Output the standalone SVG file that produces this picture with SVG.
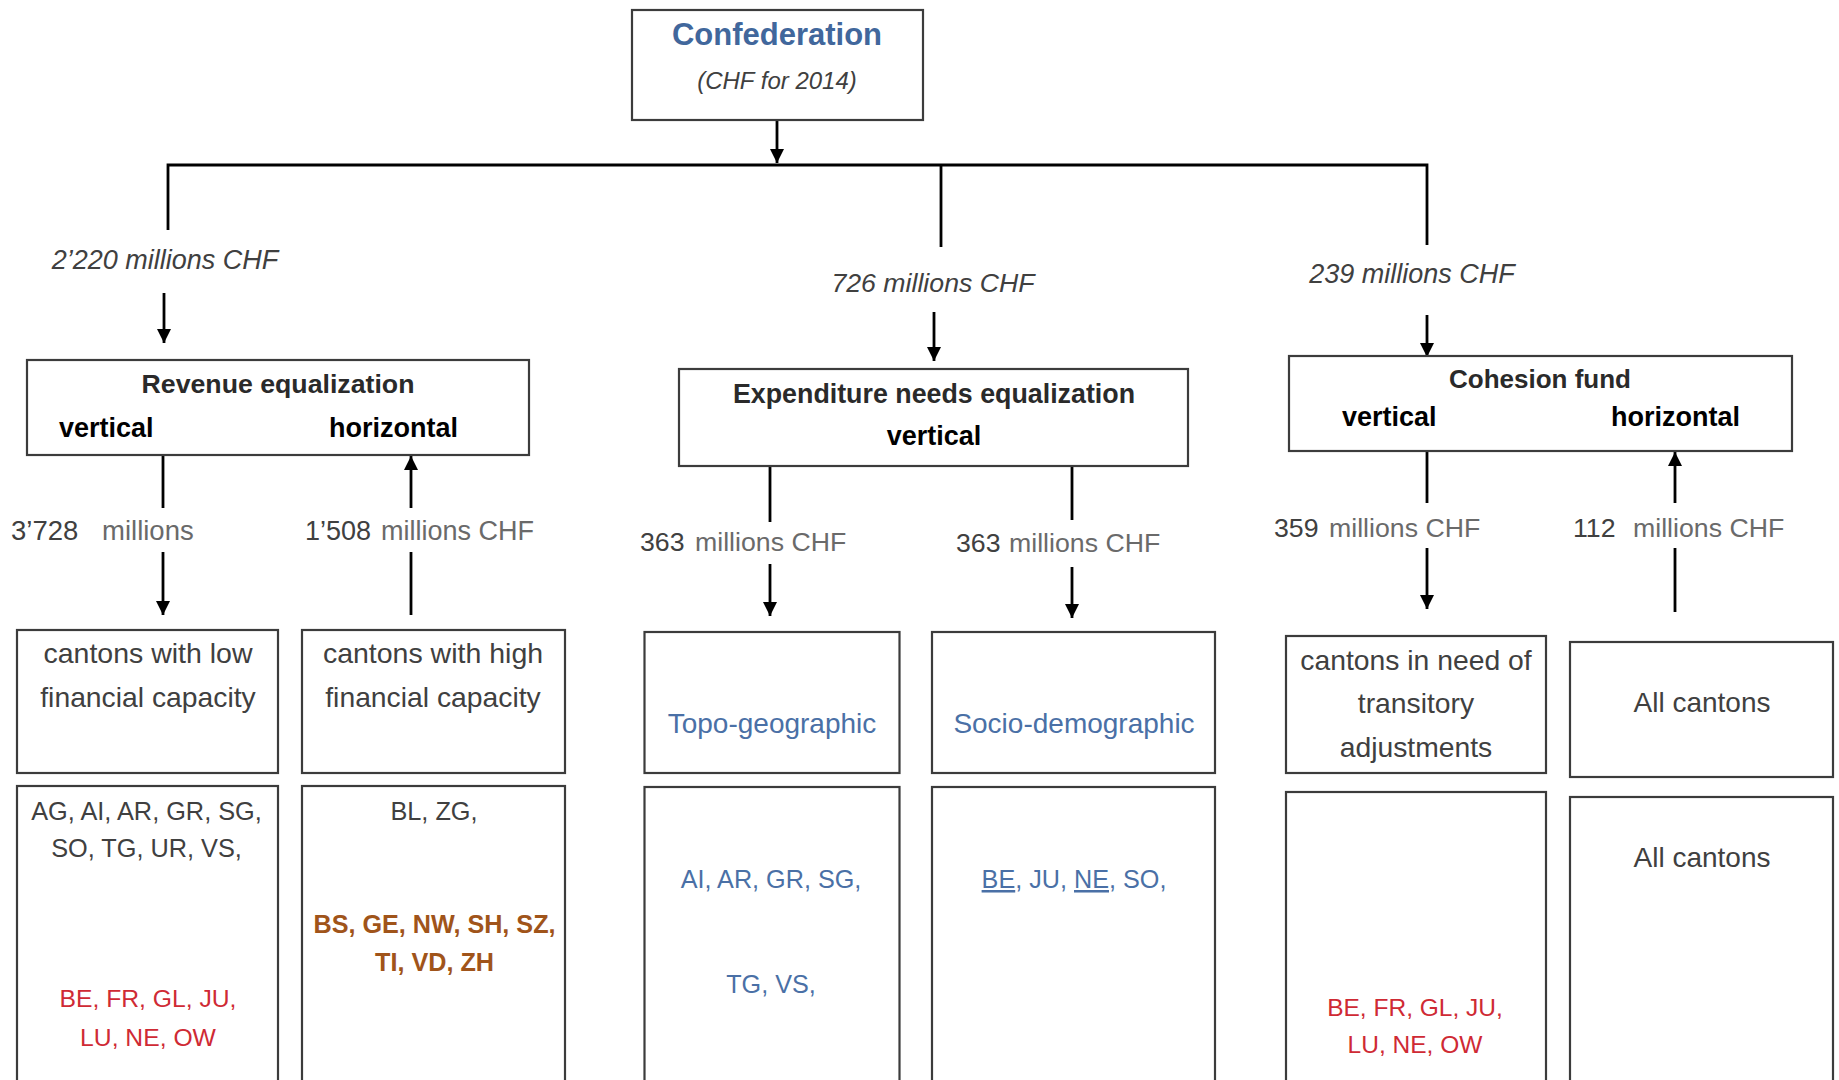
<svg xmlns="http://www.w3.org/2000/svg" width="1839" height="1080" viewBox="0 0 1839 1080">
<defs>
<marker id="ah" markerUnits="userSpaceOnUse" markerWidth="14" markerHeight="14" refX="14" refY="7" orient="auto">
<path d="M0,0 L14,7 L0,14 z" fill="#000"/>
</marker>
<style>
.box{fill:#fff;stroke:#3c3c3c;stroke-width:2.2}
.ln{fill:none;stroke:#000;stroke-width:2.8}
.arr{fill:none;stroke:#000;stroke-width:2.8;marker-end:url(#ah)}
text{font-family:"Liberation Sans",Arial,sans-serif}
.b{font-weight:bold;fill:#000}
.t{font-weight:bold;fill:#2a2a2a}
.g{fill:#404040}
.lt{fill:#6a6a6a}
.it{font-style:italic;fill:#404040}
.blue{fill:#4a70a6}
.red{fill:#cf2a34}
.brown{fill:#a0541a;font-weight:bold}
.c{text-anchor:middle}
</style>
</defs>
<g id="connectors">
<path class="arr" d="M777,120 V163"/>
<path class="ln" d="M168,230 V165 H1427 V245"/>
<path class="ln" d="M941,165 V247"/>
<path class="arr" d="M164,293 V343"/>
<path class="arr" d="M934,312 V361"/>
<path class="arr" d="M1427,315 V357"/>
<path class="ln" d="M163,455 V508"/>
<path class="arr" d="M163,552 V615"/>
<path class="arr" d="M411,508 V456"/>
<path class="ln" d="M411,552 V615"/>
<path class="ln" d="M770,466 V522"/>
<path class="arr" d="M770,564 V616"/>
<path class="ln" d="M1072,466 V520"/>
<path class="arr" d="M1072,567 V618"/>
<path class="ln" d="M1427,451 V503"/>
<path class="arr" d="M1427,548 V609"/>
<path class="arr" d="M1675,503 V452"/>
<path class="ln" d="M1675,548 V612"/>
</g>
<g id="labels">
<text class="it c" x="165" y="269" font-size="27">2’220 millions CHF</text>
<text class="it c" x="933" y="292" font-size="26.7">726 millions CHF</text>
<text class="it c" x="1412" y="283" font-size="27">239 millions CHF</text>
<text font-size="27.5" y="540"><tspan class="g" x="11">3’728</tspan><tspan class="lt" x="102">millions</tspan></text>
<text font-size="27" y="540"><tspan class="g" x="305">1’508</tspan><tspan class="lt" x="381">millions CHF</tspan></text>
<text font-size="26.7" y="551"><tspan class="g" x="640">363</tspan><tspan class="lt" x="695">millions CHF</tspan></text>
<text font-size="26.7" y="552"><tspan class="g" x="956">363</tspan><tspan class="lt" x="1009">millions CHF</tspan></text>
<text font-size="26.7" y="537"><tspan class="g" x="1274">359</tspan><tspan class="lt" x="1329">millions CHF</tspan></text>
<text font-size="26.7" y="537"><tspan class="g" x="1573">112</tspan><tspan class="lt" x="1633">millions CHF</tspan></text>
</g>
<g id="confederation">
<rect class="box" x="632" y="10" width="291" height="110"/>
<text class="c" x="777" y="45" font-size="31" font-weight="bold" fill="#41679c">Confederation</text>
<text class="it c" x="777" y="89" font-size="24">(CHF for 2014)</text>
</g>
<g id="revenue">
<rect class="box" x="27" y="360" width="502" height="95"/>
<text class="t c" x="278" y="393" font-size="26.7">Revenue equalization</text>
<text class="b" x="59" y="437" font-size="27">vertical</text>
<text class="b" x="329" y="437" font-size="27">horizontal</text>
</g>
<g id="expenditure">
<rect class="box" x="679" y="369" width="509" height="97"/>
<text class="t c" x="934" y="403" font-size="26.8">Expenditure needs equalization</text>
<text class="b c" x="934" y="445" font-size="27">vertical</text>
</g>
<g id="cohesion">
<rect class="box" x="1289" y="356" width="503" height="95"/>
<text class="t c" x="1540" y="388" font-size="26">Cohesion fund</text>
<text class="b" x="1342" y="426" font-size="27">vertical</text>
<text class="b" x="1611" y="426" font-size="27">horizontal</text>
</g>
<g id="low-capacity">
<rect class="box" x="17" y="630" width="261" height="143"/>
<text class="g c" x="148" y="663" font-size="28.5">cantons with low</text>
<text class="g c" x="148" y="707" font-size="28.3">financial capacity</text>
</g>
<g id="high-capacity">
<rect class="box" x="302" y="630" width="263" height="143"/>
<text class="g c" x="433" y="663" font-size="28.5">cantons with high</text>
<text class="g c" x="433" y="707" font-size="28.3">financial capacity</text>
</g>
<g id="topo">
<rect class="box" x="644.5" y="632" width="255" height="141"/>
<text class="blue c" x="772" y="733" font-size="28">Topo-geographic</text>
</g>
<g id="socio">
<rect class="box" x="932" y="632" width="283" height="141"/>
<text class="blue c" x="1074" y="733" font-size="28">Socio-demographic</text>
</g>
<g id="transitory">
<rect class="box" x="1286" y="636" width="260" height="137"/>
<text class="g c" x="1416" y="670" font-size="28.3">cantons in need of</text>
<text class="g c" x="1416" y="713" font-size="28.3">transitory</text>
<text class="g c" x="1416" y="757" font-size="28.3">adjustments</text>
</g>
<g id="all-cantons">
<rect class="box" x="1570" y="642" width="263" height="135"/>
<text class="g c" x="1702" y="712" font-size="28">All cantons</text>
</g>
<g id="low-list">
<rect class="box" x="17" y="786" width="261" height="310"/>
<text class="g c" x="146.5" y="820" font-size="25.3">AG, AI, AR, GR, SG,</text>
<text class="g c" x="146.5" y="857" font-size="25.3">SO, TG, UR, VS,</text>
<text class="red c" x="148" y="1007" font-size="24.7">BE, FR, GL, JU,</text>
<text class="red c" x="148" y="1046" font-size="24.7">LU, NE, OW</text>
</g>
<g id="high-list">
<rect class="box" x="302" y="786" width="263" height="310"/>
<text class="g c" x="434" y="820" font-size="25.3">BL, ZG,</text>
<text class="brown c" x="434.5" y="933" font-size="25.2">BS, GE, NW, SH, SZ,</text>
<text class="brown c" x="434.5" y="971" font-size="25.2">TI, VD, ZH</text>
</g>
<g id="topo-list">
<rect class="box" x="644.5" y="787" width="255" height="310"/>
<text class="blue c" x="771" y="888" font-size="25.2">AI, AR, GR, SG,</text>
<text class="blue c" x="771" y="993" font-size="25.2">TG, VS,</text>
</g>
<g id="socio-list">
<rect class="box" x="932" y="787" width="283" height="310"/>
<text class="blue c" x="1074" y="888" font-size="25.2"><tspan text-decoration="underline">BE</tspan>, JU, <tspan text-decoration="underline">NE</tspan>, SO,</text>
</g>
<g id="transitory-list">
<rect class="box" x="1286" y="792" width="260" height="310"/>
<text class="red c" x="1415" y="1016" font-size="24.5">BE, FR, GL, JU,</text>
<text class="red c" x="1415" y="1053" font-size="24.5">LU, NE, OW</text>
</g>
<g id="all-list">
<rect class="box" x="1570" y="797" width="263" height="310"/>
<text class="g c" x="1702" y="867" font-size="28">All cantons</text>
</g>
</svg>
